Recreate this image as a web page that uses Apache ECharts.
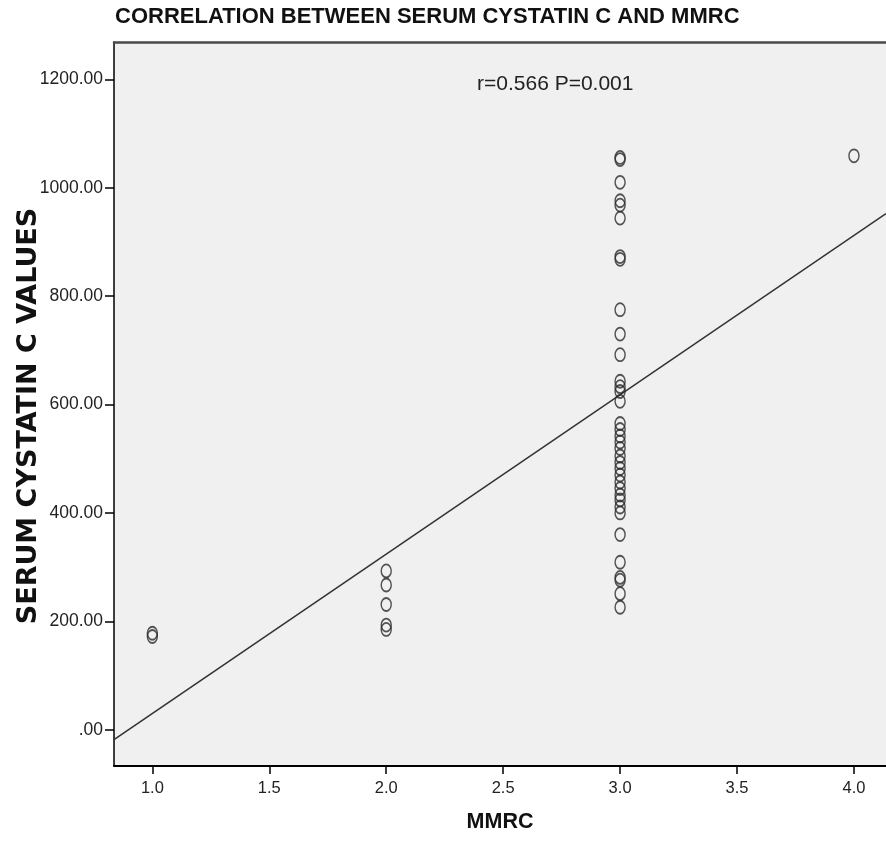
<!DOCTYPE html>
<html>
<head>
<meta charset="utf-8">
<script src="https://cdn.jsdelivr.net/npm/echarts@6/dist/echarts.min.js"></script>
<style>
html,body{margin:0;padding:0;background:#fff;}
#chart{width:886px;height:849px;}
</style>
</head>
<body>
<div id="chart"></div>
<script>
// ---- data ----
const titleText = 'CORRELATION BETWEEN SERUM CYSTATIN C AND MMRC';
const annotationText = 'r=0.566 P=0.001';
const xAxisName = 'MMRC';
const yAxisName = 'SERUM CYSTATIN C VALUES';

const cystatinAtMMRC1 = [178, 172];
const cystatinAtMMRC2 = [293, 267, 231, 193, 185];
const cystatinAtMMRC3 = [1056, 1052, 1010, 976, 968, 944, 873, 868, 775, 730, 692,
  643, 633, 624, 606, 565, 554, 542, 531, 519, 505, 493, 482, 470, 457, 445, 433,
  424, 411, 400, 360, 309, 281, 276, 251, 226];
const cystatinAtMMRC4 = [1059];

const xTickValues = [1.0, 1.5, 2.0, 2.5, 3.0, 3.5, 4.0];
const xTickLabels = ['1.0', '1.5', '2.0', '2.5', '3.0', '3.5', '4.0'];
const yTickValues = [0, 200, 400, 600, 800, 1000, 1200];
const yTickLabels = ['.00', '200.00', '400.00', '600.00', '800.00', '1000.00', '1200.00'];

// fit line: y = fitIntercept + fitSlope * x
const fitIntercept = -264;
const fitSlope = 294;

const xMin = 0.836, xMax = 4.137;
const yMin = -67, yMax = 1269;

// ---- build ----
const points = [];
[[1, cystatinAtMMRC1], [2, cystatinAtMMRC2], [3, cystatinAtMMRC3], [4, cystatinAtMMRC4]]
  .forEach(([x, arr]) => arr.forEach(v => points.push([x, v])));

const fitLine = [xMin, xMax].map(x => [x, fitIntercept + fitSlope * x]);

const FONT = '"Liberation Sans", Arial, sans-serif';
const chart = echarts.init(document.getElementById('chart'), null, {renderer: 'canvas'});
chart.setOption({
  backgroundColor: '#ffffff',
  animation: false,
  title: [{
    text: titleText,
    left: 110, top: 1,
    textStyle: {fontFamily: FONT, fontSize: 22, fontWeight: 'bold', color: '#111'}
  }, {
    text: annotationText,
    left: 472, top: 69,
    textStyle: {fontFamily: FONT, fontSize: 21, fontWeight: 'normal', color: '#222'}
  }],
  grid: {
    left: 114, right: 0, top: 42, bottom: 83,
    show: true, backgroundColor: '#f0f0f0', borderWidth: 0,
    containLabel: false,
    outerBoundsMode: 'none'
  },
  xAxis: [{
    type: 'value', min: xMin, max: xMax,
    name: xAxisName, nameLocation: 'middle', nameGap: 45, nameMoveOverlap: false,
    nameTextStyle: {fontFamily: FONT, fontSize: 21.5, fontWeight: 'bold', color: '#111'},
    axisLine: {show: true, onZero: false, lineStyle: {color: '#000', width: 2}},
    axisTick: {show: true, length: 8, customValues: xTickValues, lineStyle: {color: '#000', width: 1.5}},
    axisLabel: {
      customValues: xTickValues, margin: 14,
      fontFamily: FONT, fontSize: 16.5, color: '#222',
      formatter: v => xTickLabels[xTickValues.indexOf(v)] ?? ''
    },
    splitLine: {show: false}
  }, {
    // top frame line of the plot area
    type: 'value', min: xMin, max: xMax, position: 'top',
    axisLine: {show: true, onZero: false, lineStyle: {color: '#4a4a4a', width: 2.5}},
    axisTick: {show: false}, axisLabel: {show: false}, splitLine: {show: false}
  }],
  yAxis: {
    type: 'value', min: yMin, max: yMax,
    name: yAxisName, nameLocation: 'middle', nameRotate: 90, nameGap: 72, nameMoveOverlap: false,
    nameTextStyle: {fontFamily: '"DejaVu Sans", sans-serif', fontSize: 27, fontWeight: 'bold', color: '#111',
      padding: [0, 24, 0, 0]},
    axisLine: {show: true, onZero: false, lineStyle: {color: '#000', width: 1.5}},
    axisTick: {show: true, length: 9, customValues: yTickValues, lineStyle: {color: '#000', width: 1.5}},
    axisLabel: {
      customValues: yTickValues, margin: 11,
      fontFamily: FONT, fontSize: 17.5, color: '#222',
      formatter: v => yTickLabels[yTickValues.indexOf(v)] ?? ''
    },
    splitLine: {show: false}
  },
  series: [{
    type: 'line',
    data: fitLine,
    showSymbol: false,
    symbol: 'none',
    lineStyle: {color: '#333', width: 1.6},
    silent: true,
    z: 2
  }, {
    type: 'scatter',
    data: points,
    symbol: 'circle',
    symbolSize: [10, 13],
    itemStyle: {color: 'rgba(0,0,0,0)', borderColor: '#2a2a2a', borderWidth: 1.6},
    z: 3
  }]
});
</script>
</body>
</html>
